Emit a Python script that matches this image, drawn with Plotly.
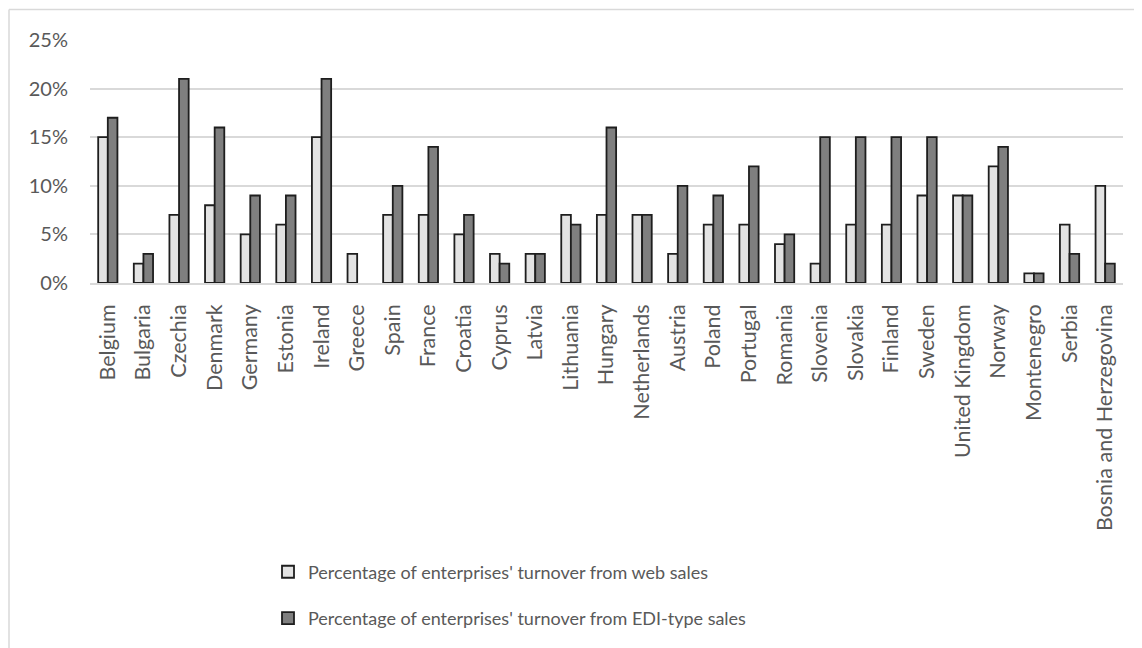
import plotly.graph_objects as go

countries = ["Belgium", "Bulgaria", "Czechia", "Denmark", "Germany", "Estonia", "Ireland",
             "Greece", "Spain", "France", "Croatia", "Cyprus", "Latvia", "Lithuania",
             "Hungary", "Netherlands", "Austria", "Poland", "Portugal", "Romania",
             "Slovenia", "Slovakia", "Finland", "Sweden", "United Kingdom", "Norway",
             "Montenegro", "Serbia", "Bosnia and Herzegovina"]
web_sales = [0.15, 0.02, 0.07, 0.08, 0.05, 0.06, 0.15, 0.03, 0.07, 0.07, 0.05, 0.03, 0.03, 0.07,
             0.07, 0.07, 0.03, 0.06, 0.06, 0.04, 0.02, 0.06, 0.06, 0.09, 0.09, 0.12,
             0.01, 0.06, 0.10]
edi_sales = [0.17, 0.03, 0.21, 0.16, 0.09, 0.09, 0.21, None, 0.10, 0.14, 0.07, 0.02, 0.03, 0.06,
             0.16, 0.07, 0.10, 0.09, 0.12, 0.05, 0.15, 0.15, 0.15, 0.15, 0.09, 0.14,
             0.01, 0.03, 0.02]
series_names = ["Percentage of enterprises' turnover from web sales",
                "Percentage of enterprises' turnover from EDI-type sales"]
y_ticks = [0, 0.05, 0.10, 0.15, 0.20, 0.25]

FONT = "Lato"
TXT = "#595959"
GRID = "#d9d9d9"

fig = go.Figure()
fig.add_trace(go.Bar(x=countries, y=web_sales, name=series_names[0], legendgroup="a",
                     marker=dict(color="#e3e3e3", line=dict(color="#1e1e1e", width=1.8))))
fig.add_trace(go.Bar(x=countries, y=edi_sales, name=series_names[1], legendgroup="b",
                     marker=dict(color="#7f7f7f", line=dict(color="#1e1e1e", width=1.8))))

# page body has an 8px margin; screen pixel p -> figure pixel p - 8
OFF = 8
W, H = 1142 - OFF, 648 - OFF
L, T = 90 - OFF, 40 - OFF
R = W - (1123 - OFF)
B = H - (287 - OFF)
pw, ph = W - L - R, H - T - B

def px_x(p):
    return (p - OFF - L) / pw

def px_y(p):
    return (H - B - (p - OFF)) / ph

shapes = [
    dict(type="line", xref="paper", yref="paper", x0=px_x(9), x1=px_x(9), y0=px_y(9), y1=px_y(660),
         line=dict(color=GRID, width=1.5)),
    dict(type="line", xref="paper", yref="paper", x0=px_x(9), x1=px_x(1160), y0=px_y(9), y1=px_y(9),
         line=dict(color=GRID, width=1.5)),
]

fig.update_layout(
    width=W, height=H,
    margin=dict(l=L, r=R, t=T, b=B),
    paper_bgcolor="white", plot_bgcolor="white",
    barmode="group", bargap=0.46, bargroupgap=0,
    font=dict(family=FONT, color=TXT),
    showlegend=True,
    legend=dict(orientation="v", x=px_x(268), y=px_y(562), xanchor="left", yanchor="top",
                font=dict(size=18, color=TXT, family=FONT), tracegroupgap=20,
                bgcolor="rgba(0,0,0,0)"),
    shapes=shapes,
    xaxis=dict(tickangle=-90, tickfont=dict(size=21.5, color=TXT, family=FONT),
               showgrid=False, showline=True, linecolor=GRID, linewidth=1.5,
               ticks="", ticklabelstandoff=11, fixedrange=True),
    yaxis=dict(range=[0, 0.25], tickvals=y_ticks, tickformat=".0%",
               tickfont=dict(size=20, color=TXT, family=FONT),
               showgrid=True, gridcolor=GRID, gridwidth=1.5, zeroline=False,
               showline=False, ticks="", ticklabelstandoff=21, fixedrange=True),
)

fig.write_html("out.html")
